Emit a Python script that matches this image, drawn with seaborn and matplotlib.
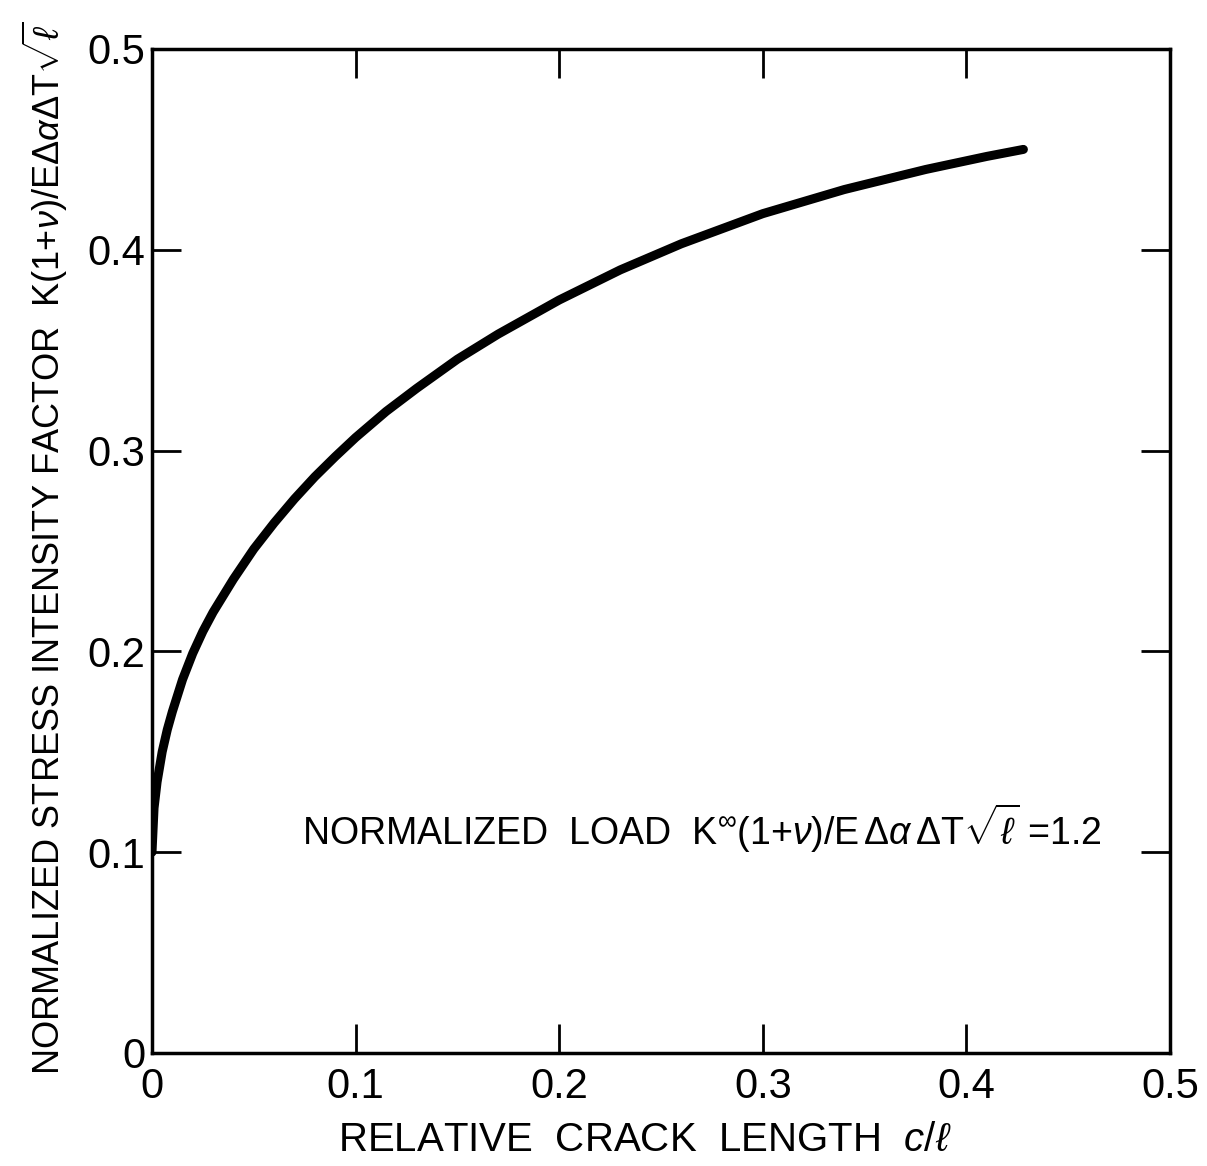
import matplotlib
matplotlib.use("Agg")
import matplotlib.pyplot as plt
import seaborn as sns

# Stress intensity factor vs. relative crack length (normalized load = 1.2)
crack_length = [0.000, 0.001, 0.0025, 0.005, 0.0075, 0.010, 0.015, 0.020, 0.025,
                0.030, 0.040, 0.050, 0.060, 0.070, 0.080, 0.090, 0.100, 0.115,
                0.130, 0.150, 0.170, 0.200, 0.230, 0.260, 0.300, 0.340, 0.380,
                0.410, 0.428]
stress_intensity = [0.100, 0.122, 0.135, 0.150, 0.161, 0.170, 0.186, 0.199, 0.210,
                    0.2195, 0.236, 0.251, 0.264, 0.276, 0.287, 0.297, 0.3065, 0.3195,
                    0.331, 0.3455, 0.358, 0.375, 0.390, 0.403, 0.418, 0.430, 0.440,
                    0.4465, 0.450]

x_ticks = [0.0, 0.1, 0.2, 0.3, 0.4, 0.5]
x_tick_labels = ["0", "0.1", "0.2", "0.3", "0.4", "0.5"]
y_ticks = [0.0, 0.1, 0.2, 0.3, 0.4, 0.5]
y_tick_labels = ["0", "0.1", "0.2", "0.3", "0.4", "0.5"]

sns.set_theme(style="ticks")
plt.rcParams["font.family"] = ["Liberation Sans", "DejaVu Sans"]
plt.rcParams["mathtext.fontset"] = "custom"
plt.rcParams["mathtext.rm"] = "Liberation Sans"
plt.rcParams["mathtext.it"] = "Liberation Sans:italic"
plt.rcParams["mathtext.bf"] = "Liberation Sans:bold"

W, H = 1207, 1166
fig = plt.figure(figsize=(W / 100, H / 100), dpi=100)
fig.patch.set_facecolor("white")
ax = fig.add_axes([152 / W, 113 / H, 1018 / W, 1004 / H])
ax.set_facecolor("white")

sns.lineplot(x=crack_length, y=stress_intensity, ax=ax, color="black",
             linewidth=6.5, solid_capstyle="round", solid_joinstyle="round")

ax.set_xlim(0, 0.5)
ax.set_ylim(0, 0.5)
ax.set_xticks(x_ticks)
ax.set_xticklabels(x_tick_labels)
ax.set_yticks(y_ticks)
ax.set_yticklabels(y_tick_labels)

for side in ["left", "right", "top", "bottom"]:
    ax.spines[side].set_visible(True)
    ax.spines[side].set_color("black")
    ax.spines[side].set_linewidth(2.5)

ax.tick_params(axis="both", which="major", direction="in", length=21, width=2,
               color="black", labelcolor="black", labelsize=30,
               top=True, right=True, labeltop=False, labelright=False)
ax.tick_params(axis="x", pad=10)
ax.tick_params(axis="y", pad=5)

ax.set_xlabel(r"RELATIVE  CRACK  LENGTH  $c/\ell$", fontsize=29, color="black",
              va="center", ha="center")
ax.xaxis.set_label_coords(0.484, -0.087)

ax.set_ylabel(r"NORMALIZED STRESS INTENSITY FACTOR  "
              r"$\mathrm{K(1{+}}\nu\mathrm{)/E\Delta}\alpha\mathrm{\Delta T}\sqrt{\ell}$",
              fontsize=26, color="black", va="center", ha="center")
ax.yaxis.set_label_coords(-0.105, 0.503)

ax.text(0.147, 0.224,
        r"NORMALIZED  LOAD  $\mathrm{K}^{\infty}\mathrm{(1{+}}\nu\mathrm{)/E\,\Delta}\alpha"
        r"\,\mathrm{\Delta T}\sqrt{\ell}$ =1.2",
        transform=ax.transAxes, fontsize=27, color="black", ha="left", va="center")

fig.savefig("out.png", dpi=100, facecolor="white")
